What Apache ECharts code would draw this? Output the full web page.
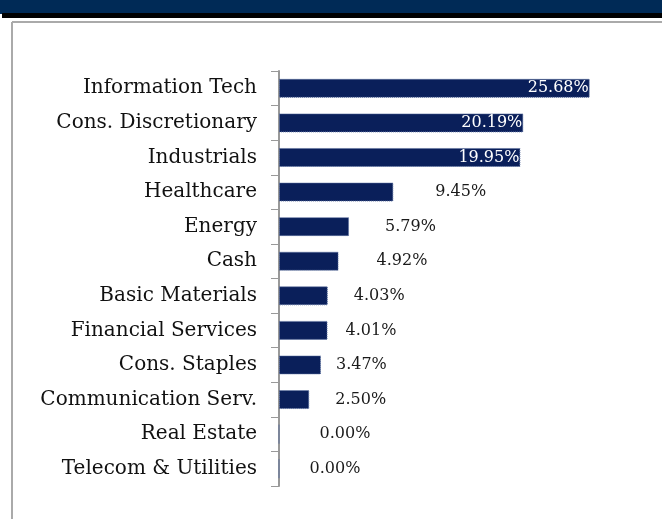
<!DOCTYPE html>
<html><head><meta charset="utf-8">
<script src="https://cdn.jsdelivr.net/npm/echarts@6/dist/echarts.min.js"></script>
<style>html,body{margin:0;padding:0;background:#fff}#c{width:662px;height:519px}</style>
</head><body><div id="c"></div>
<script>
const categories = ["Information Tech","Cons. Discretionary","Industrials","Healthcare","Energy","Cash","Basic Materials","Financial Services","Cons. Staples","Communication Serv.","Real Estate","Telecom & Utilities"];
const weights = [25.68,20.19,19.95,9.45,5.79,4.92,4.03,4.01,3.47,2.50,0.00,0.00];
const valueLabels = ["25.68%","20.19%","19.95%","9.45%","5.79%","4.92%","4.03%","4.01%","3.47%","2.50%","0.00%","0.00%"];
// style: gap between bar end and outside label
const labelGaps = [0,0,0,42,36,38,26,18,15,26,40,30];

const chart = echarts.init(document.getElementById('c'), null, {renderer:'canvas'});
const serif = "'DejaVu Serif', 'Liberation Serif', serif";
const data = weights.map((v,i)=>{
  const inside = v > 15;
  return {
    value: v,
    label: inside
      ? {position:'insideRight', color:'#fff', distance:1}
      : {position:'right', color:'#1a1a1a', distance: labelGaps[i]}
  };
});
chart.setOption({
  animation:false,
  graphic:[
    {type:'rect', shape:{x:0,y:0,width:662,height:14}, style:{fill:'#002a56'}},
    {type:'rect', shape:{x:2,y:13,width:660,height:5}, style:{fill:'#000'}},
    {type:'line', shape:{x1:12,y1:22,x2:662,y2:22}, style:{stroke:'#aaa', lineWidth:2}},
    {type:'line', shape:{x1:12,y1:22,x2:12,y2:519}, style:{stroke:'#aaa', lineWidth:2}}
  ],
  grid:{left:279, right:20, top:71, bottom:33},
  xAxis:{type:'value', min:0, max:30, show:false},
  yAxis:{
    type:'category', data:categories, inverse:true,
    axisLine:{show:true, lineStyle:{color:'#999', width:2}},
    axisTick:{show:true, length:8, lineStyle:{color:'#999'}},
    axisLabel:{fontFamily:serif, fontSize:20, color:'#111', margin:22}
  },
  series:[{
    type:'bar', data:data, barWidth:19,
    itemStyle:{color:'#0a1f5a', borderColor:'#5a6f9e', borderWidth:1, borderType:'dotted'},
    label:{show:true, fontFamily:serif, fontSize:16, formatter:p=>valueLabels[p.dataIndex]}
  }]
});
</script></body></html>
